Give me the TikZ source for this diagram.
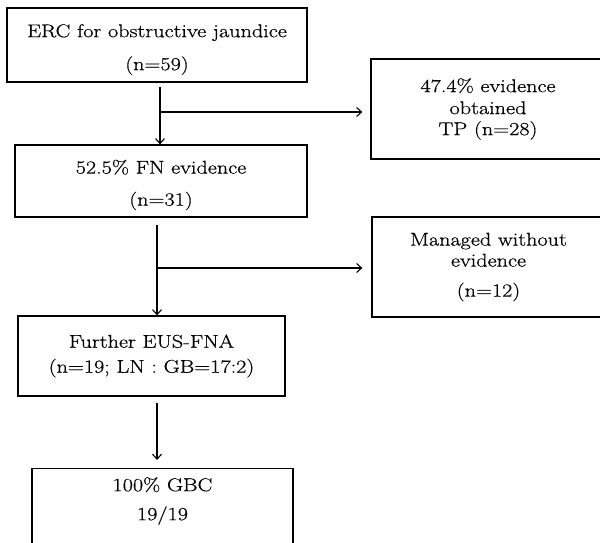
\documentclass[tikz,border=0pt]{standalone}
\usepackage{fontspec}
\setmainfont{Latin Modern Roman}[FakeStretch=1.2,FakeBold=0.6]
\usetikzlibrary{arrows.meta}
\begin{document}
\begin{tikzpicture}[x=1pt,y=-1pt,
  box/.style={draw, line width=1.2pt, rectangle, inner sep=0pt, align=center,
    font=\fontsize{18.5}{21}\selectfont},
  txt/.style={align=center, inner sep=0pt, font=\fontsize{18.5}{21}\selectfont},
  arr/.style={draw, line width=1.2pt, -{Straight Barb[length=5pt,width=9pt,line width=1.1pt]}}]
\useasboundingbox (0,0) rectangle (600,543);
\clip (0,0) rectangle (600,543);
\node[box, minimum width=300pt, minimum height=74pt] (b1) at (157,45) {};
\node[txt] (b1t) at (157,49.5) {ERC for obstructive jaundice\\[12pt](n=59)};
\node[box, minimum width=234pt, minimum height=100pt] (tp) at (488,109)
  {47.4\% evidence\\[1pt]obtained\\TP (n=28)};
\node[box, minimum width=292pt, minimum height=72pt] (b2) at (161,181) {};
\node[txt] (b2t) at (161,185) {52.5\% FN evidence\\[11pt](n=31)};
\node[box, minimum width=233pt, minimum height=100pt] (mw) at (488.5,267)
  {Managed without\\evidence\\[9pt](n=12)};
\node[box, minimum width=267pt, minimum height=80pt] (b3) at (151.5,356)
  {Further EUS-FNA\\[4pt](n=19; LN : GB=17:2)};
\node[box, minimum width=261pt, minimum height=110pt, anchor=north] (b4) at (162.5,468) {};
\node[txt] (b4t) at (162.5,501) {100\% GBC\\[8pt]19/19};
\coordinate (v1) at (160,87);
\coordinate (j1) at (160,112);
\coordinate (v2) at (157,225);
\coordinate (j2) at (157,268);
\coordinate (v3) at (157,403);
\draw[arr] (v1) -- (v1 |- b2.north);
\draw[arr, shorten >=8pt] (j1) -- (j1 -| tp.west);
\draw[arr] (v2) -- (v2 |- b3.north);
\draw[arr, shorten >=9pt] (j2) -- (j2 -| mw.west);
\draw[arr, shorten >=8pt] (v3) -- (v3 |- b4.north);
\end{tikzpicture}
\end{document}
